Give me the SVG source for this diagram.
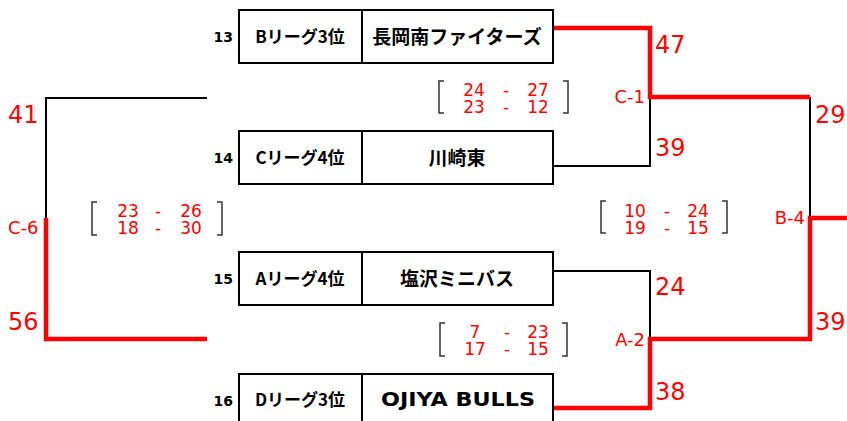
<svg xmlns="http://www.w3.org/2000/svg" width="847" height="421" viewBox="0 0 847 421">
<style>
.box{fill:#fff;stroke:#000;stroke-width:2}
.seed{font-family:"DejaVu Sans",Verdana,sans-serif;font-weight:bold;font-size:14px;fill:#000;text-anchor:end}
.lg{font-family:"Noto Sans CJK JP",sans-serif;font-weight:bold;font-size:17px;fill:#000;text-anchor:middle}
.tm{font-family:"Noto Sans CJK JP",sans-serif;font-weight:bold;font-size:19px;fill:#000;text-anchor:middle}
.blk{fill:none;stroke:#000;stroke-width:2}
.red{fill:none;stroke:#FF0000;stroke-width:4.5}
.big{font-family:"DejaVu Sans",Verdana,sans-serif;font-size:24px;fill:#FF0000}
.sm{font-family:"DejaVu Sans",Verdana,sans-serif;font-size:18px;fill:#FF0000}
.sc{font-family:"DejaVu Sans",Verdana,sans-serif;font-size:17px;fill:#FF0000;text-anchor:middle}
.br{fill:none;stroke:#333;stroke-width:1.5}
</style>
<g id="connectors">
<path class="blk" d="M553,166 H650 V97"/>
<path class="blk" d="M553,271 H650 V339"/>
<path class="blk" d="M810,97 V218"/>
<path class="blk" d="M207,98 H46 V218"/>
<path class="red" d="M553,28 H650 V97 H810"/>
<path class="red" d="M553,408 H650 V339 H810 V218 H847"/>
<path class="red" d="M46,218 V339 H207"/>
</g>
<g id="node13">
<text class="seed" x="233" y="42">13</text>
<rect class="box" x="239" y="10" width="314" height="53"/>
<line class="blk" x1="362" y1="10" x2="362" y2="63"/>
<text class="lg" x="300" y="43">Bリーグ3位</text>
<text class="tm" x="457" y="44">長岡南ファイターズ</text>
</g>
<g id="node14">
<text class="seed" x="233" y="163">14</text>
<rect class="box" x="239" y="131" width="314" height="53"/>
<line class="blk" x1="362" y1="131" x2="362" y2="184"/>
<text class="lg" x="300" y="164">Cリーグ4位</text>
<text class="tm" x="457" y="165">川崎東</text>
</g>
<g id="node15">
<text class="seed" x="233" y="284">15</text>
<rect class="box" x="239" y="252" width="314" height="53"/>
<line class="blk" x1="362" y1="252" x2="362" y2="305"/>
<text class="lg" x="300" y="285">Aリーグ4位</text>
<text class="tm" x="457" y="286">塩沢ミニバス</text>
</g>
<g id="node16">
<text class="seed" x="233" y="406">16</text>
<rect class="box" x="239" y="374" width="314" height="60"/>
<line class="blk" x1="362" y1="374" x2="362" y2="430"/>
<text class="lg" x="300" y="406">Dリーグ3位</text>
<text class="tm" x="458" y="406" style="font-family:'DejaVu Sans',Verdana,sans-serif;font-size:19px" textLength="154" lengthAdjust="spacingAndGlyphs">OJIYA BULLS</text>
</g>
<g id="scores">
<text class="big" x="655" y="53">47</text>
<text class="big" x="655" y="156">39</text>
<text class="big" x="815" y="123">29</text>
<text class="big" x="655" y="295">24</text>
<text class="big" x="815" y="330">39</text>
<text class="big" x="655" y="400">38</text>
<text class="big" x="8" y="123">41</text>
<text class="big" x="8" y="330">56</text>
<text class="sm" x="645" y="103" text-anchor="end">C-1</text>
<text class="sm" x="805" y="224" text-anchor="end">B-4</text>
<text class="sm" x="645" y="346" text-anchor="end">A-2</text>
<text class="sm" x="8" y="234">C-6</text>
</g>
<g id="detail-c1">
<path class="br" d="M444,81 H439 V113 H444 M563,81 H568 V113 H563"/>
<text class="sc" x="474" y="96">24</text><text class="sc" x="506" y="96">-</text><text class="sc" x="538" y="96">27</text>
<text class="sc" x="474" y="113">23</text><text class="sc" x="506" y="113">-</text><text class="sc" x="538" y="113">12</text>
</g>
<g id="detail-c6">
<path class="br" d="M97,202 H92 V235 H97 M217,202 H222 V235 H217"/>
<text class="sc" x="128" y="217">23</text><text class="sc" x="158" y="217">-</text><text class="sc" x="191" y="217">26</text>
<text class="sc" x="128" y="234">18</text><text class="sc" x="158" y="234">-</text><text class="sc" x="191" y="234">30</text>
</g>
<g id="detail-b4">
<path class="br" d="M606,201 H601 V233 H606 M722,201 H727 V233 H722"/>
<text class="sc" x="635" y="217">10</text><text class="sc" x="667" y="217">-</text><text class="sc" x="698" y="217">24</text>
<text class="sc" x="635" y="234">19</text><text class="sc" x="667" y="234">-</text><text class="sc" x="698" y="234">15</text>
</g>
<g id="detail-a2">
<path class="br" d="M445,323 H440 V356 H445 M562,323 H567 V356 H562"/>
<text class="sc" x="475" y="338">7</text><text class="sc" x="507" y="338">-</text><text class="sc" x="538" y="338">23</text>
<text class="sc" x="475" y="355">17</text><text class="sc" x="507" y="355">-</text><text class="sc" x="538" y="355">15</text>
</g>
</svg>
